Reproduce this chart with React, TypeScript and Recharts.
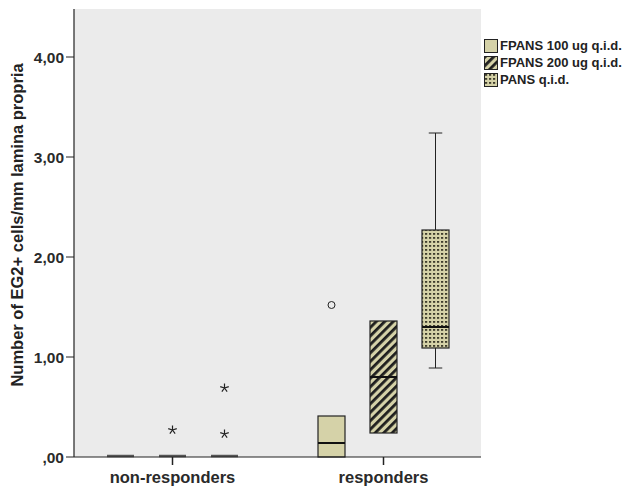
import React from 'react'
import { ComposedChart, Bar, XAxis, YAxis, CartesianGrid } from 'recharts'

const CATEGORIES = ['non-responders', 'responders']
const SERIES = ['FPANS 100 ug q.i.d.', 'FPANS 200 ug q.i.d.', 'PANS q.i.d.']
const Y_TICKS = [0, 1, 2, 3, 4]
const Y_MAX = 4.48

// one value per category (non-responders, responders)
const FP100_Q1 = [0, 0]
const FP100_MEDIAN = [0, 0.14]
const FP100_Q3 = [0, 0.41]
const FP100_WHISKER_LO = [0, 0]
const FP100_WHISKER_HI = [0, 0.41]
const FP100_CIRCLES = [[], [1.52]]
const FP100_STARS = [[], []]

const FP200_Q1 = [0, 0.24]
const FP200_MEDIAN = [0, 0.8]
const FP200_Q3 = [0, 1.36]
const FP200_WHISKER_LO = [0, 0.24]
const FP200_WHISKER_HI = [0, 1.36]
const FP200_CIRCLES = [[], []]
const FP200_STARS = [[0.27], []]

const PANS_Q1 = [0, 1.09]
const PANS_MEDIAN = [0, 1.3]
const PANS_Q3 = [0, 2.27]
const PANS_WHISKER_LO = [0, 0.89]
const PANS_WHISKER_HI = [0, 3.24]
const PANS_CIRCLES = [[], []]
const PANS_STARS = [[0.69, 0.23], []]

const TAN = '#d5d2a8'
const FONT = 'Arial, "Liberation Sans", sans-serif'

type Stats = {
  q1: number
  med: number
  q3: number
  wlo: number
  whi: number
  circles: number[]
  stars: number[]
  lo: number
  hi: number
}

function makeStats(i: number, q1: number[], med: number[], q3: number[], wlo: number[], whi: number[], circles: number[][], stars: number[][]): Stats {
  const all = [q1[i], med[i], q3[i], wlo[i], whi[i], ...circles[i], ...stars[i]]
  return {
    q1: q1[i],
    med: med[i],
    q3: q3[i],
    wlo: wlo[i],
    whi: whi[i],
    circles: circles[i],
    stars: stars[i],
    lo: Math.min(...all),
    hi: Math.max(...all),
  }
}

const data = CATEGORIES.map((name, i) => ({
  name,
  s0: makeStats(i, FP100_Q1, FP100_MEDIAN, FP100_Q3, FP100_WHISKER_LO, FP100_WHISKER_HI, FP100_CIRCLES, FP100_STARS),
  s1: makeStats(i, FP200_Q1, FP200_MEDIAN, FP200_Q3, FP200_WHISKER_LO, FP200_WHISKER_HI, FP200_CIRCLES, FP200_STARS),
  s2: makeStats(i, PANS_Q1, PANS_MEDIAN, PANS_Q3, PANS_WHISKER_LO, PANS_WHISKER_HI, PANS_CIRCLES, PANS_STARS),
}))

function starPath(cx: number, cy: number, r: number) {
  let d = ''
  for (let k = 0; k < 5; k++) {
    const a = (-90 + k * 72) * (Math.PI / 180)
    d += `M${cx},${cy}L${cx + r * Math.cos(a)},${cy + r * Math.sin(a)}`
  }
  return d
}

// the range bar spans [lo, hi] of every value in the group, so the library's
// y scale maps lo -> bottom and hi -> top; inner values are placed along it
function BoxShape(props: any) {
  const { x, y, width, height, payload, seriesKey, fill } = props
  const s: Stats = payload[seriesKey]
  const top = Math.min(y, y + height)
  const bottom = Math.max(y, y + height)
  const py = (v: number) => (s.hi === s.lo ? bottom : bottom - ((v - s.lo) * (bottom - top)) / (s.hi - s.lo))
  const cx = x + width / 2
  const cap = width / 4
  return (
    <g>
      {s.q3 > s.q1 ? (
        <g>
          {s.whi > s.q3 && (
            <g stroke="#222" strokeWidth={1}>
              <line x1={cx} x2={cx} y1={py(s.whi)} y2={py(s.q3)} />
              <line x1={cx - cap} x2={cx + cap} y1={py(s.whi)} y2={py(s.whi)} />
            </g>
          )}
          {s.wlo < s.q1 && (
            <g stroke="#222" strokeWidth={1}>
              <line x1={cx} x2={cx} y1={py(s.q1)} y2={py(s.wlo)} />
              <line x1={cx - cap} x2={cx + cap} y1={py(s.wlo)} y2={py(s.wlo)} />
            </g>
          )}
          <rect x={x} y={py(s.q3)} width={width} height={py(s.q1) - py(s.q3)} fill={fill} stroke="#222" strokeWidth={1.2} />
          <line x1={x} x2={x + width} y1={py(s.med)} y2={py(s.med)} stroke="#111" strokeWidth={2} />
        </g>
      ) : (
        <line x1={x} x2={x + width} y1={py(s.q1) - 1} y2={py(s.q1) - 1} stroke="#555" strokeWidth={2.5} />
      )}
      {s.circles.map((v, i) => (
        <circle key={'c' + i} cx={cx} cy={py(v)} r={3.5} fill="none" stroke="#222" strokeWidth={1} />
      ))}
      {s.stars.map((v, i) => (
        <path key={'s' + i} d={starPath(cx, py(v), 4.5)} stroke="#222" strokeWidth={1.2} />
      ))}
    </g>
  )
}

function Patterns({ prefix }: { prefix: string }) {
  return (
    <defs>
      <pattern id={prefix + 'stripe'} patternUnits="userSpaceOnUse" width={6} height={6} patternTransform="rotate(45)">
        <rect width={6} height={6} fill={TAN} />
        <rect width={2.8} height={6} fill="#1e1e1e" />
      </pattern>
      <pattern id={prefix + 'dots'} patternUnits="userSpaceOnUse" width={4} height={4}>
        <rect width={4} height={4} fill={TAN} />
        <rect x={1} y={1} width={2.2} height={1.8} fill="#3e3c2c" />
      </pattern>
    </defs>
  )
}

const FILLS = [TAN, 'url(#cstripe)', 'url(#cdots)']
const LEGEND_FILLS = [TAN, 'url(#lstripe)', 'url(#ldots)']

function LegendBox() {
  return (
    <div style={{ position: 'absolute', left: 484, top: 37, fontFamily: FONT, fontWeight: 'bold', fontSize: 13, color: '#222' }}>
      {SERIES.map((name, i) => (
        <div key={name} style={{ display: 'flex', alignItems: 'center', height: 17 }}>
          <svg width={14} height={14} style={{ marginRight: 2 }}>
            {i === 0 && <Patterns prefix="l" />}
            <rect x={0.5} y={0.5} width={13} height={13} fill={LEGEND_FILLS[i]} stroke="#222" strokeWidth={1} />
          </svg>
          <span>{name}</span>
        </div>
      ))}
    </div>
  )
}

const fmt = (v: number) => (v === 0 ? ',00' : v.toFixed(2).replace('.', ','))

export default function App() {
  return (
    <div style={{ position: 'absolute', left: 0, top: 0, width: 631, height: 489, background: '#fff' }}>
      <ComposedChart width={631} height={489} data={data} margin={{ top: 9, right: 150, bottom: 0, left: 0 }} barSize={27} barGap={25}>
        <Patterns prefix="c" />
        <CartesianGrid fill="#ebebeb" stroke="none" horizontal={false} vertical={false} />
        <XAxis
          dataKey="name"
          height={32}
          padding={{ left: -7, right: -8 }}
          tickSize={8}
          tickLine={{ stroke: '#222', strokeWidth: 1.5 }}
          axisLine={{ stroke: '#222', strokeWidth: 1.2 }}
          tick={{ fill: '#2a2a2a', fontSize: 16.5, fontWeight: 'bold', fontFamily: FONT, dy: 4 }}
        />
        <XAxis xAxisId="top" dataKey="name" orientation="top" height={0} tick={false} tickLine={false} axisLine={{ stroke: '#999' }} />
        <YAxis
          width={74}
          domain={[0, Y_MAX]}
          ticks={Y_TICKS}
          tickFormatter={fmt}
          tickSize={8}
          tickLine={{ stroke: '#222' }}
          axisLine={{ stroke: '#222', strokeWidth: 1.2 }}
          tick={{ fill: '#2a2a2a', fontSize: 15.5, fontWeight: 'bold', fontFamily: FONT }}
          label={{
            content: () => (
              <text
                x={17}
                y={225}
                transform="rotate(-90 17 225)"
                textAnchor="middle"
                dominantBaseline="central"
                fill="#222"
                fontSize={16.5}
                fontWeight="bold"
                fontFamily={FONT}
              >
                Number of EG2+ cells/mm lamina propria
              </text>
            ),
          }}
        />
        <YAxis yAxisId="right" orientation="right" width={0} domain={[0, Y_MAX]} tick={false} tickLine={false} axisLine={{ stroke: '#999' }} />
        {['s0', 's1', 's2'].map((key, i) => (
          <Bar
            key={key}
            dataKey={(d: any) => [d[key].lo, d[key].hi]}
            name={SERIES[i]}
            isAnimationActive={false}
            shape={(p: any) => <BoxShape {...p} seriesKey={key} fill={FILLS[i]} />}
          />
        ))}
      </ComposedChart>
      <LegendBox />
    </div>
  )
}
